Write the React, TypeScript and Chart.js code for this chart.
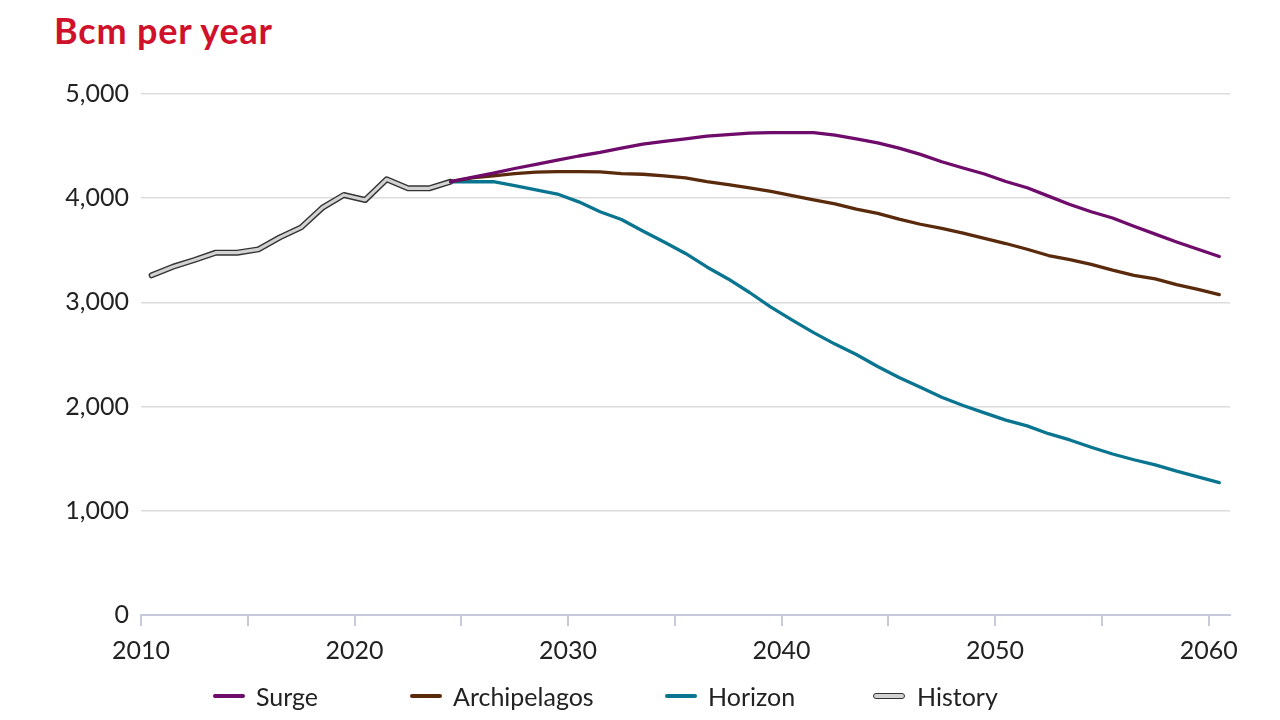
import React, { useEffect, useRef } from "react";
import { Chart, registerables } from "chart.js";

Chart.register(...registerables);

const historyYears = [2010, 2011, 2012, 2013, 2014, 2015, 2016, 2017, 2018, 2019, 2020, 2021, 2022, 2023, 2024];
const historyValues = [3260, 3343, 3407, 3477, 3477, 3509, 3624, 3720, 3909, 4031, 3983, 4181, 4095, 4095, 4158];

const scenarioYears = [
  2024, 2025, 2026, 2027, 2028, 2029, 2030, 2031, 2032, 2033, 2034, 2035, 2036, 2037, 2038, 2039, 2040,
  2041, 2042, 2043, 2044, 2045, 2046, 2047, 2048, 2049, 2050, 2051, 2052, 2053, 2054, 2055, 2056, 2057,
  2058, 2059, 2060,
];
const surgeValues = [
  4158, 4200, 4240, 4285, 4325, 4365, 4405, 4440, 4480, 4520, 4545, 4570, 4595, 4610, 4625, 4630, 4630,
  4630, 4605, 4570, 4530, 4480, 4420, 4350, 4290, 4232, 4160, 4100, 4020, 3940, 3870, 3810, 3730, 3655,
  3580, 3510, 3440,
];
const archipelagosValues = [
  4158, 4195, 4215, 4235, 4250, 4255, 4255, 4252, 4235, 4230, 4215, 4195, 4160, 4130, 4100, 4065, 4025,
  3985, 3945, 3895, 3855, 3800, 3750, 3710, 3665, 3615, 3565, 3510, 3450, 3410, 3365, 3310, 3260, 3225,
  3170, 3125, 3075,
];
const horizonValues = [
  4158, 4158, 4158, 4120, 4080, 4040, 3965, 3870, 3795, 3685, 3580, 3470, 3340, 3225, 3095, 2955, 2830,
  2710, 2600, 2500, 2385, 2280, 2185, 2090, 2010, 1940, 1870, 1815, 1740, 1680, 1610, 1545, 1490, 1440,
  1380, 1325, 1270,
];

const yTicks = [0, 1000, 2000, 3000, 4000, 5000];
const xLabelYears = [2010, 2020, 2030, 2040, 2050, 2060];

const COLORS = {
  surge: "#6e0b6b",
  archipelagos: "#5a2a0c",
  horizon: "#0a7590",
  historyFill: "#d2d2d2",
  historyEdge: "#333333",
  title: "#d0112b",
  text: "#222222",
  grid: "#dcdcdc",
  axis: "#c6cbdc",
};

const FONT = "Lato, 'Noto Sans', sans-serif";

// each year's value is drawn at the middle of its year
const pts = (years: number[], vals: number[]) => years.map((y, i) => ({ x: y + 0.5, y: vals[i] }));

const legendItems = [
  { label: "Surge", color: COLORS.surge, left: 213, history: false },
  { label: "Archipelagos", color: COLORS.archipelagos, left: 410, history: false },
  { label: "Horizon", color: COLORS.horizon, left: 665, history: false },
  { label: "History", color: COLORS.historyFill, left: 873, history: true },
];

export default function App() {
  const canvasRef = useRef<HTMLCanvasElement | null>(null);

  useEffect(() => {
    if (!canvasRef.current) return;
    const lineBase = { pointRadius: 0, fill: false, tension: 0, borderCapStyle: "round" as const, borderJoinStyle: "round" as const };
    const chart = new Chart(canvasRef.current, {
      type: "line",
      data: {
        datasets: [
          { ...lineBase, label: "Surge", data: pts(scenarioYears, surgeValues), borderColor: COLORS.surge, borderWidth: 3.3 },
          { ...lineBase, label: "Archipelagos", data: pts(scenarioYears, archipelagosValues), borderColor: COLORS.archipelagos, borderWidth: 3.3 },
          { ...lineBase, label: "Horizon", data: pts(scenarioYears, horizonValues), borderColor: COLORS.horizon, borderWidth: 3.3 },
          { ...lineBase, label: "History", data: pts(historyYears, historyValues), borderColor: COLORS.historyFill, borderWidth: 3.2 },
          { ...lineBase, label: "History edge", data: pts(historyYears, historyValues), borderColor: COLORS.historyEdge, borderWidth: 6 },
        ],
      },
      options: {
        animation: false,
        responsive: false,
        maintainAspectRatio: false,
        layout: { padding: { left: 0, right: 50, top: 94, bottom: 0 } },
        plugins: { legend: { display: false }, tooltip: { enabled: false }, title: { display: false } },
        scales: {
          x: {
            type: "linear",
            min: 2010,
            max: 2061,
            afterFit: (s: any) => {
              s.height = 105;
            },
            afterBuildTicks: (s: any) => {
              const t = [];
              for (let v = 2010; v <= 2060; v += 5) t.push({ value: v });
              s.ticks = t;
            },
            ticks: {
              autoSkip: false,
              maxRotation: 0,
              padding: 10,
              color: COLORS.text,
              font: { family: FONT, size: 25 },
              callback: (v: any) => (xLabelYears.includes(Number(v)) ? String(v) : ""),
            },
            grid: { drawOnChartArea: false, drawTicks: true, tickLength: 11, color: COLORS.axis, lineWidth: 2 },
            border: { display: true, color: COLORS.axis, width: 2 },
          },
          y: {
            min: 0,
            max: 5000,
            afterFit: (s: any) => {
              s.width = 141;
            },
            afterBuildTicks: (s: any) => {
              s.ticks = yTicks.map((v) => ({ value: v }));
            },
            ticks: {
              padding: 12,
              color: COLORS.text,
              font: { family: FONT, size: 25 },
              callback: (v: any) => Number(v).toLocaleString("en-US"),
            },
            grid: { drawTicks: false, color: COLORS.grid, lineWidth: 1.5 },
            border: { display: false },
          },
        },
      },
    });
    return () => chart.destroy();
  }, []);

  return (
    <div style={{ position: "fixed", left: 0, top: 0, width: 1280, height: 720, background: "#fff", overflow: "hidden" }}>
      <div
        style={{
          position: "absolute",
          left: 54,
          top: 11,
          fontFamily: FONT,
          fontWeight: 700,
          fontSize: 36,
          letterSpacing: 0.8,
          lineHeight: "38px",
          color: COLORS.title,
          whiteSpace: "nowrap",
        }}
      >
        Bcm per year
      </div>
      <canvas ref={canvasRef} width={1280} height={720} style={{ position: "absolute", left: 0, top: 0, width: 1280, height: 720 }} />
      {legendItems.map((it) => (
        <div key={it.label} style={{ position: "absolute", left: it.left, top: 680, height: 32, display: "flex", alignItems: "center" }}>
          <div
            style={{
              width: it.history ? 30 : 32,
              height: 4,
              background: it.color,
              border: it.history ? `1.5px solid ${COLORS.historyEdge}` : "none",
              borderRadius: 3,
              marginRight: it.history ? 12 : 11,
            }}
          />
          <span style={{ fontFamily: FONT, fontSize: 25, color: COLORS.text, whiteSpace: "nowrap" }}>{it.label}</span>
        </div>
      ))}
    </div>
  );
}
